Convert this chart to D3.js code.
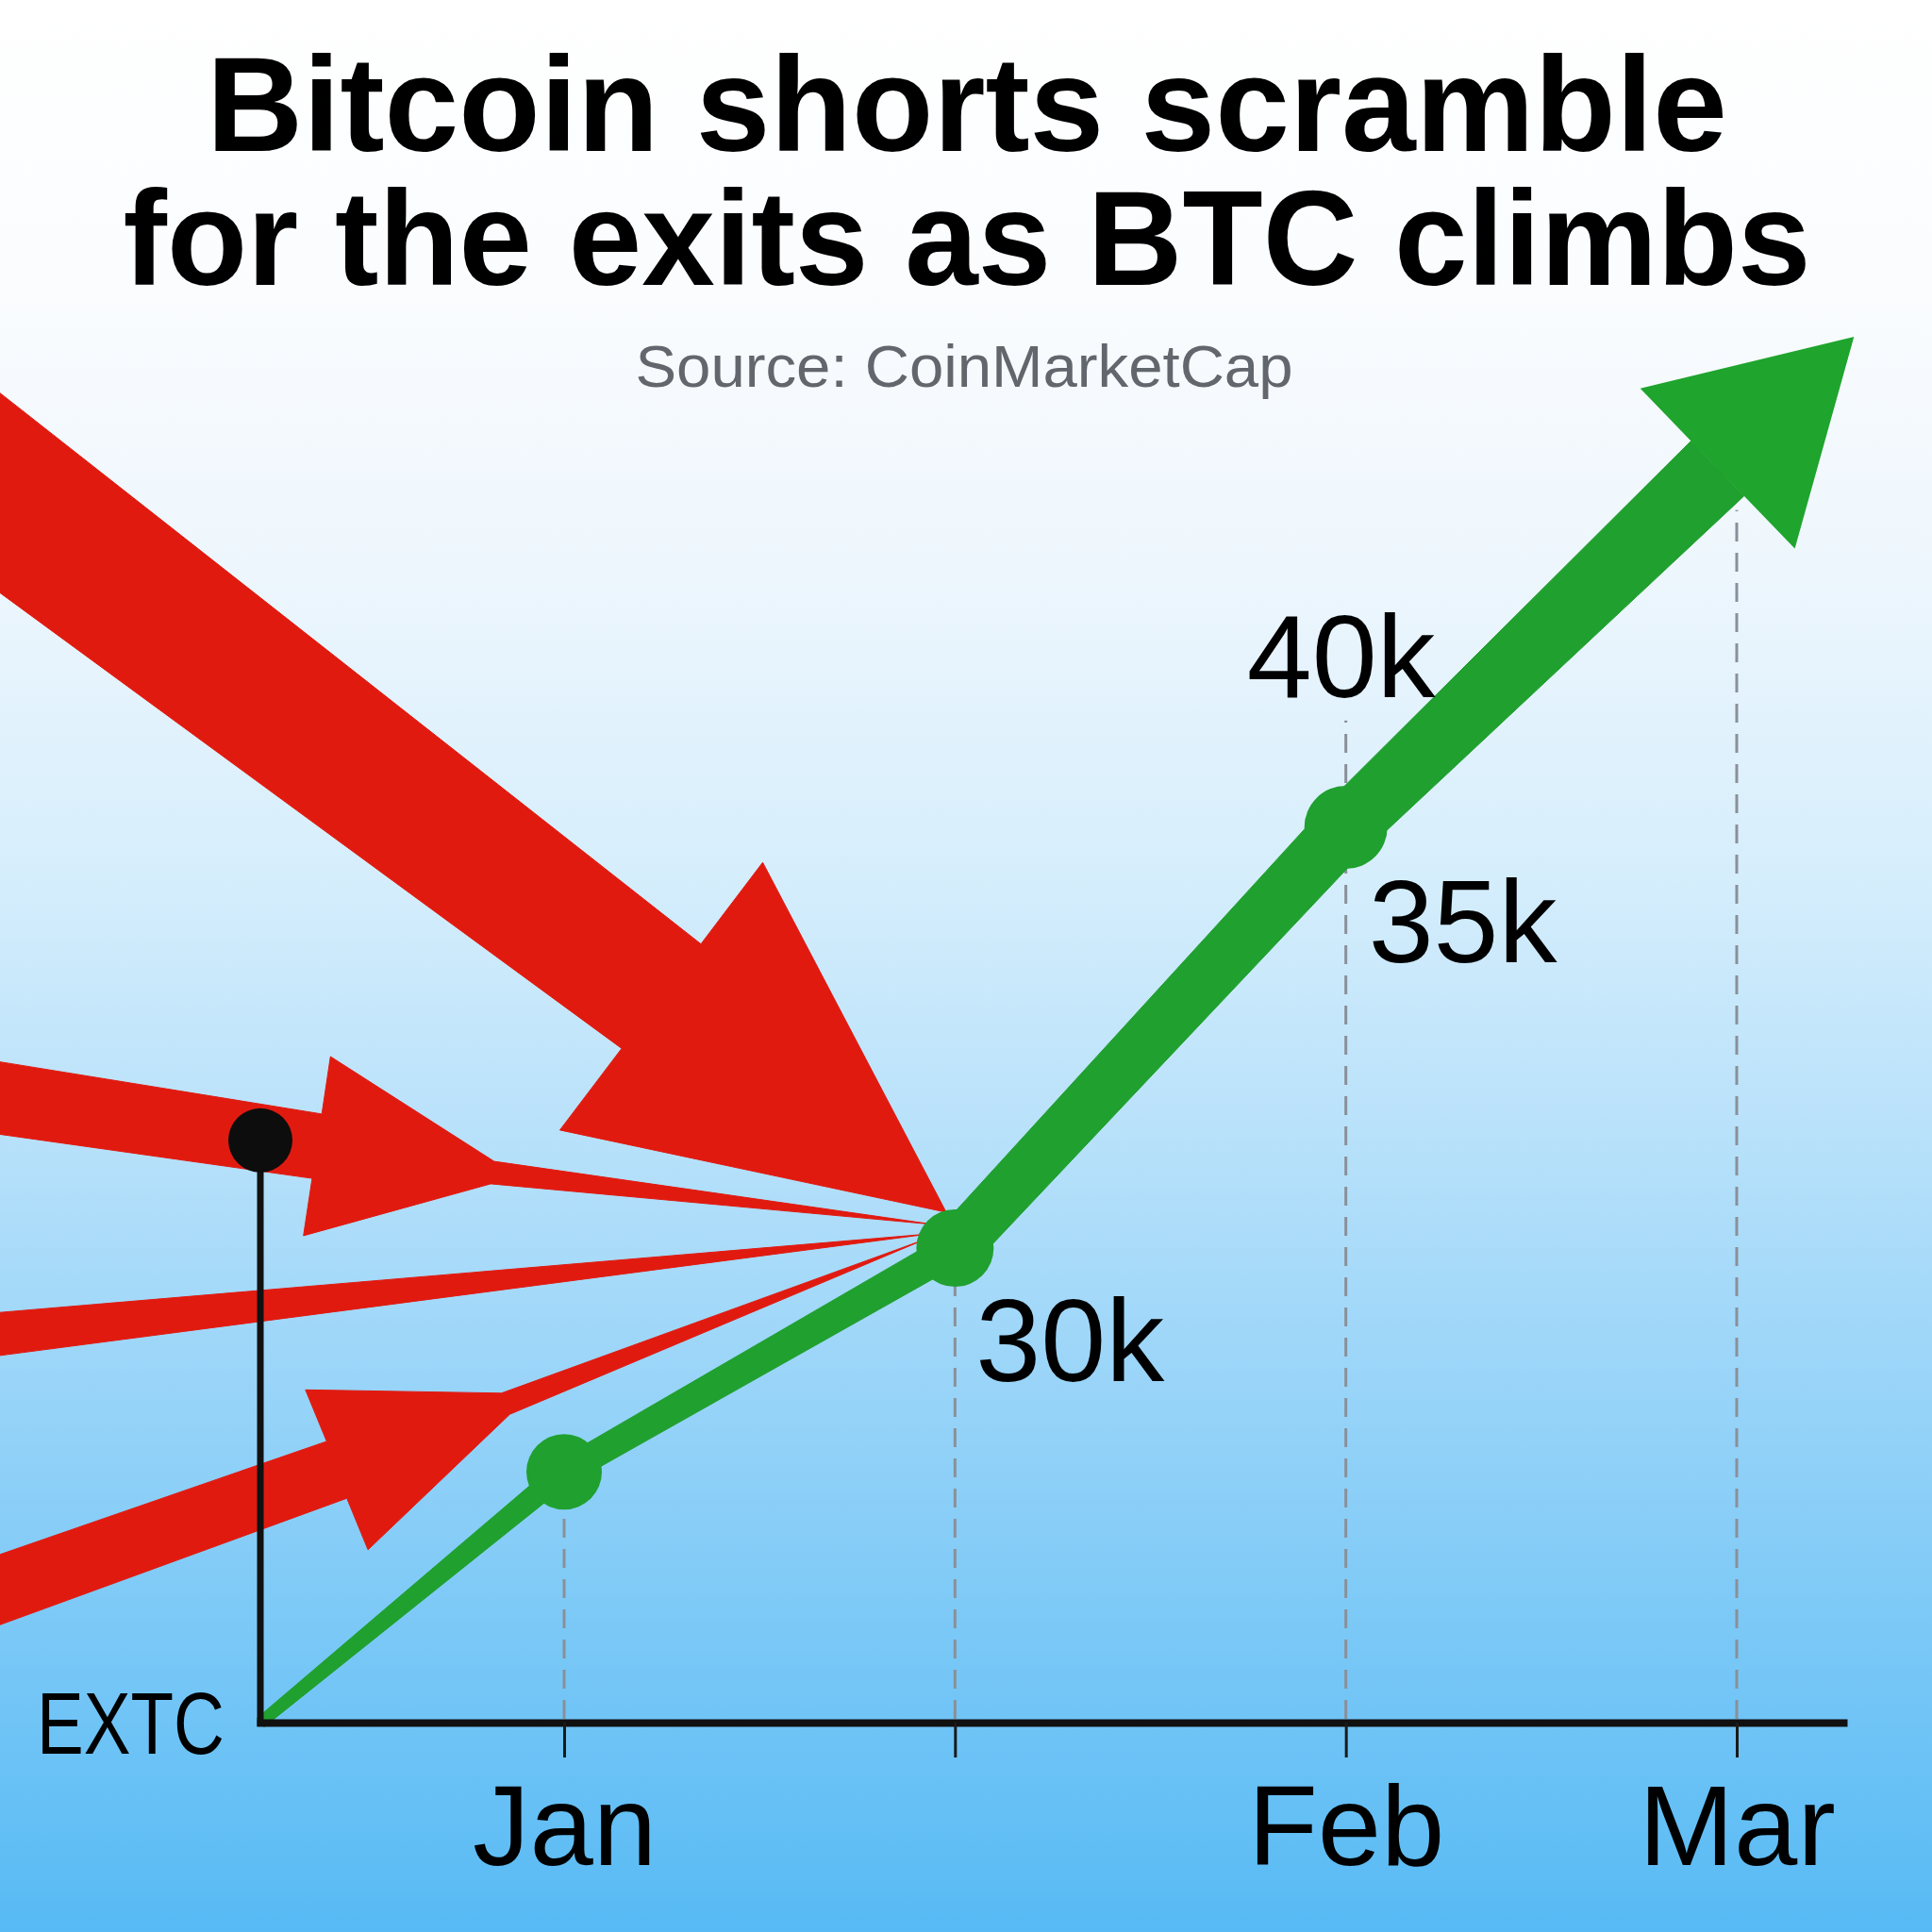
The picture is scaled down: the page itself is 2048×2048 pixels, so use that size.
<!DOCTYPE html>
<html>
<head>
<meta charset="utf-8">
<script src="https://cdn.jsdelivr.net/npm/d3@7"></script>
<style>
  html, body { margin: 0; padding: 0; background: #ffffff; }
  svg { display: block; }
</style>
</head>
<body>
<svg id="chart" width="2048" height="2048"></svg>
<script>
// ---------------- DATA ----------------
const titleLines = ["Bitcoin shorts scramble", "for the exits as BTC climbs"];
const sourceText = "Source: CoinMarketCap";
const yAxisLabel = "EXTC";

// x positions are in "tick units" (1 = Jan, 2 = mid, 3 = Feb, 4 = Mar); prices in k USD
const tickValues = [1, 2, 3, 4];
const tickLabels = ["Jan", "", "Feb", "Mar"];
const gridTops   = [27.34, 30, 36.27, 38.77];   // price where each dashed guide stops

const btcX      = [0.223, 1, 2, 3];
const btcPrice  = [24.36, 27.34, 30, 35];
const btcArrowTip = { x: 4.30, price: 40.83 };
const dotIndex  = [1, 2, 3];

const valueLabels   = ["30k", "35k", "40k"];
const valueLabelFor = [2, 3, 3];               // which btc point each label belongs to

const yAxisTopPrice = 31.28;

// red "shorts" arrows, centre-line points [x, price]
const shortArrows = [
  { tail: [-0.8053, 40.235], base: [1.2486, 32.993], front: [1.9775, 30.426], end: [1.9775, 30.426] },
  { tail: [-0.6846, 31.951], base: [0.3677, 31.211], front: [0.8166, 30.897], end: [1.9461, 30.280] },
  { tail: [-0.6846, 28.859], end: [1.934, 30.168] },
  { tail: [-0.6846, 25.544], base: [0.4183, 27.365], front: [0.8504, 28.150], end: [1.922, 30.101] }
];

// ---------------- STYLE ----------------
const shortArrowStyle = [
  { w0: 175, w1: 139, hh: 178, fw: 0 },
  { w0: 78,  w1: 69,  hh: 96,  fw: 24 },
  { w0: 50 },
  { w0: 72,  w1: 64,  hh: 91,  fw: 24 }
];
const greenWidths = [[12, 25], [28, 34], [52, 62], [64, 81]];
const dotRadius = [40, 41, 44];
const headLen = 201, headHalf = 118;
const RED = "#e11a10", GREEN = "#20a02f";
const FONT = "'Liberation Sans', Arial, Helvetica, sans-serif";

// ---------------- SCALES ----------------
const svg = d3.select("#chart");
const xScale = d3.scaleLinear().domain([0.2132, 4.2824]).range([272, 1958]);
const yScale = d3.scaleLinear().domain([30, 35]).range([1323, 877]);
const axisY = 1826;

const P = pt => [xScale(pt[0]), yScale(pt[1])];
const unit = (a, b) => { const dx = b[0]-a[0], dy = b[1]-a[1], L = Math.hypot(dx, dy); return [dx/L, dy/L]; };
const nrm = (a, b) => { const u = unit(a, b); return [-u[1], u[0]]; };
const off = (p, n, d) => [p[0] + n[0]*d, p[1] + n[1]*d];
const poly = pts => pts.map(p => p[0].toFixed(1) + "," + p[1].toFixed(1)).join(" ");

// ---------------- BACKGROUND ----------------
const defs = svg.append("defs");
const grad = defs.append("linearGradient").attr("id", "bg").attr("x1", 0).attr("y1", 0).attr("x2", 0).attr("y2", 1);
[[0, "#ffffff"], [0.15, "#fafcfe"], [0.3, "#edf6fd"], [0.45, "#d6eefc"], [0.6, "#b5e0fa"],
 [0.75, "#91d1f8"], [0.88, "#72c5f6"], [1, "#57baf4"]].forEach(s =>
  grad.append("stop").attr("offset", s[0]).attr("stop-color", s[1]));
svg.append("rect").attr("width", 2048).attr("height", 2048).attr("fill", "url(#bg)");

// ---------------- GRID GUIDES ----------------
svg.append("g").selectAll("line").data(tickValues).join("line")
  .attr("x1", d => xScale(d)).attr("x2", d => xScale(d))
  .attr("y1", axisY - 4).attr("y2", (d, i) => yScale(gridTops[i]))
  .attr("stroke", "#8a9099").attr("stroke-width", 3).attr("stroke-dasharray", "20 12");

// ---------------- RED ARROWS ----------------
function arrowPoints(a, st) {
  const T = P(a.tail), E = P(a.end);
  if (!a.base) {
    const n = nrm(T, E);
    return [off(T, n, -st.w0/2), E, off(T, n, st.w0/2)];
  }
  const B = P(a.base), F = P(a.front);
  const nS = nrm(T, B), nH = nrm(B, F);
  return [
    off(T, nS, -st.w0/2), off(B, nS, -st.w1/2), off(B, nH, -st.hh), off(F, nH, -st.fw/2),
    E,
    off(F, nH, st.fw/2), off(B, nH, st.hh), off(B, nS, st.w1/2), off(T, nS, st.w0/2)
  ];
}
svg.append("g").selectAll("polygon").data(shortArrows).join("polygon")
  .attr("points", (d, i) => poly(arrowPoints(d, shortArrowStyle[i])))
  .attr("fill", RED).attr("stroke", RED).attr("stroke-width", 1).attr("stroke-linejoin", "miter");

// ---------------- GREEN BTC LINE ----------------
const gpts = btcX.map((x, i) => P([x, btcPrice[i]]));
const tip = P([btcArrowTip.x, btcArrowTip.price]);
const dir = unit(gpts[gpts.length - 1], tip);
const baseMid = [tip[0] - dir[0]*headLen, tip[1] - dir[1]*headLen];
const chain = gpts.concat([baseMid]);
const segs = d3.range(chain.length - 1).map(i => {
  const a = chain[i], b = chain[i+1], n = nrm(a, b), w = greenWidths[i];
  return [off(a, n, -w[0]/2), off(b, n, -w[1]/2), off(b, n, w[1]/2), off(a, n, w[0]/2)];
});
const gG = svg.append("g");
gG.selectAll("polygon.seg").data(segs).join("polygon").attr("class", "seg")
  .attr("points", d => poly(d)).attr("fill", GREEN).attr("stroke", GREEN).attr("stroke-width", 1);
const nHd = [-dir[1], dir[0]];
gG.append("polygon")
  .attr("points", poly([tip, off(baseMid, nHd, -headHalf), off(baseMid, nHd, headHalf)]))
  .attr("fill", "#1fa42d");
gG.selectAll("circle").data(dotIndex).join("circle")
  .attr("cx", d => xScale(btcX[d])).attr("cy", d => yScale(btcPrice[d]))
  .attr("r", (d, i) => dotRadius[i]).attr("fill", GREEN);

// ---------------- AXES ----------------
const xAxis = d3.axisBottom(xScale).tickValues(tickValues)
  .tickFormat((d, i) => tickLabels[i]).tickSize(37).tickSizeOuter(0);
const gx = svg.append("g").attr("transform", `translate(0,${axisY})`).call(xAxis);
gx.attr("font-size", null).attr("font-family", null);
gx.select(".domain").attr("stroke", "#111").attr("stroke-width", 8);
gx.selectAll(".tick line").attr("stroke", "#1a1a1a").attr("stroke-width", 3);
gx.selectAll(".tick text").attr("y", 151).attr("dy", 0)
  .attr("fill", "#000").style("font-family", FONT)
  .style("font-size", "121px").style("font-weight", 400);

// y axis: plain line with a marker dot
const yTop = yScale(yAxisTopPrice);
svg.append("line").attr("x1", 276).attr("x2", 276).attr("y1", yTop).attr("y2", axisY + 4)
  .attr("stroke", "#111").attr("stroke-width", 7);
svg.append("circle").attr("cx", 276).attr("cy", yTop).attr("r", 34).attr("fill", "#0d0d0d");

svg.append("text").attr("x", 39).attr("y", 1859).text(yAxisLabel)
  .attr("textLength", 199).attr("lengthAdjust", "spacingAndGlyphs")
  .style("font-family", FONT).style("font-size", "92px").attr("fill", "#000");

// ---------------- VALUE LABELS ----------------
const labelOffsets = [[22, 141, "start"], [24, 143, "start"], [-5, -138, "middle"]];
svg.append("g").selectAll("text").data(valueLabels).join("text")
  .attr("x", (d, i) => xScale(btcX[valueLabelFor[i]]) + labelOffsets[i][0])
  .attr("y", (d, i) => yScale(btcPrice[valueLabelFor[i]]) + labelOffsets[i][1])
  .attr("text-anchor", (d, i) => labelOffsets[i][2])
  .text(d => d)
  .style("font-family", FONT).style("font-size", "124px")
  .attr("fill", "#000");

// ---------------- TITLE ----------------
const tSpecs = [{ y: 160, w: 1612 }, { y: 302, w: 1789 }];
const tt = svg.append("text").attr("text-anchor", "middle")
  .style("font-family", FONT).style("font-size", "142px")
  .style("font-weight", 700).attr("fill", "#000");
tt.selectAll("tspan").data(titleLines).join("tspan")
  .attr("x", 1025).attr("y", (d, i) => tSpecs[i].y)
  .attr("textLength", (d, i) => tSpecs[i].w).attr("lengthAdjust", "spacingAndGlyphs")
  .text(d => d);

svg.append("text").attr("x", 1022).attr("y", 410).attr("text-anchor", "middle")
  .attr("textLength", 697).attr("lengthAdjust", "spacingAndGlyphs")
  .text(sourceText)
  .style("font-family", FONT).style("font-size", "63px")
  .attr("fill", "#62666d");
</script>
</body>
</html>
